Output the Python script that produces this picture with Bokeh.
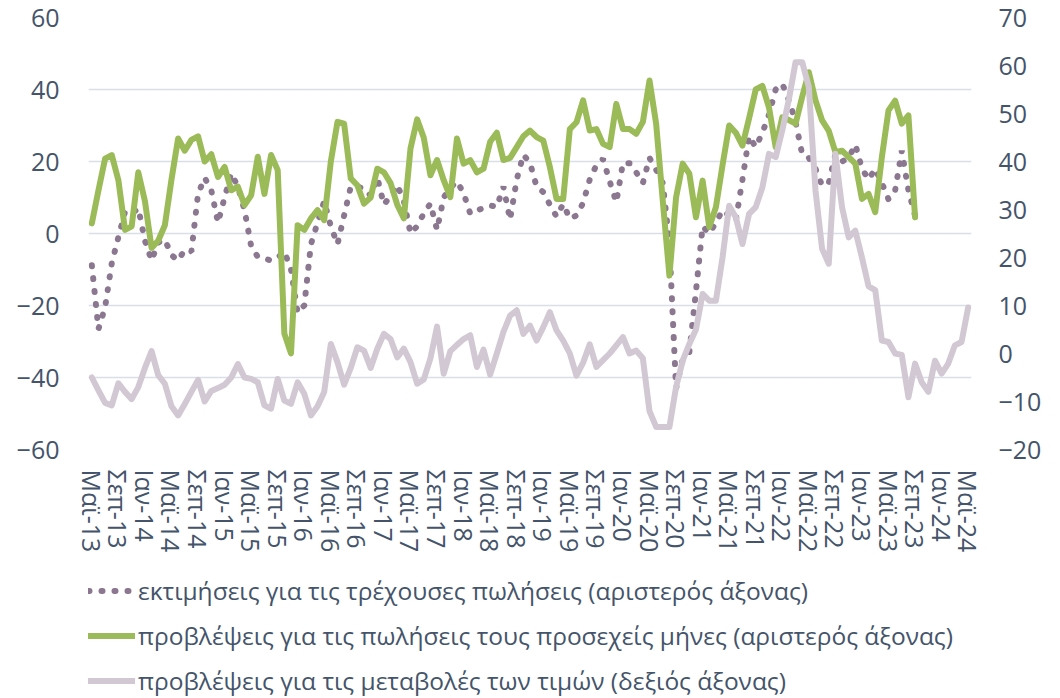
from bokeh.plotting import figure
from bokeh.models import Range1d, LinearAxis, FixedTicker, Legend, LegendItem
from bokeh.layouts import column
from bokeh.embed import file_html
from bokeh.resources import INLINE

# x-axis tick labels (every 4 months, starting May 2013)
tick_labels = ["Μαϊ-13", "Σεπ-13", "Ιαν-14", "Μαϊ-14", "Σεπ-14", "Ιαν-15", "Μαϊ-15",
               "Σεπ-15", "Ιαν-16", "Μαϊ-16", "Σεπ-16", "Ιαν-17", "Μαϊ-17", "Σεπ-17",
               "Ιαν-18", "Μαϊ-18", "Σεπ-18", "Ιαν-19", "Μαϊ-19", "Σεπ-19", "Ιαν-20",
               "Μαϊ-20", "Σεπ-20", "Ιαν-21", "Μαϊ-21", "Σεπ-21", "Ιαν-22", "Μαϊ-22",
               "Σεπ-22", "Ιαν-23", "Μαϊ-23", "Σεπ-23", "Ιαν-24", "Μαϊ-24"]

# estimates for current sales (left axis), monthly May-13 .. Sep-23
sales_now = [-8.8, -26.5, -20.5, -8.3, -1, 6, 5.5, 7, -2, -7.5,
             -2.5, -1.7, -6, -7.5, -4.5, -5, 11, 15.5, 12, 3,
             10, 16.7, 13, 6.5, -3.5, -6.5, -7, -7.5, -6.7, -5,
             -10, -22, -20, -3, 3, 9, 2, -3, 5, 13,
             13, 12.5, 10.5, 15.5, 8, 10.5, 13.5, 9, 0, 2,
             5.6, 8.3, 1, 10, 12.7, 14.5, 11.2, 5.5, 6.5, 7,
             7.8, 7.4, 13, 3.8, 15, 21.9, 19.6, 13, 11.5, 8,
             4.7, 8.2, 4.1, 5, 8.5, 15, 19, 20.7, 14.5, 8.7,
             19.6, 19.5, 17, 14, 21, 17.7, 14, -3, -43, -35,
             -33, -16, 2, 0, 3, 6.5, 5, 3.6, 15, 27,
             24, 28, 33, 40, 41.6, 37, 31, 22, 21, 18,
             13.3, 14, 22, 20, 21, 24.7, 18, 15, 18, 14,
             9.5, 12, 23, 12, 5]

# expectations for sales in coming months (left axis), May-13 .. Sep-23
sales_next = [2.8, 12, 20.8, 21.8, 14.8, 1, 2, 17, 9, -4,
              -2, 2.3, 15, 26.4, 23, 26, 27, 20, 22, 15.7,
              18.5, 12, 13, 7.9, 10.6, 21.3, 11, 21.8, 17.6, -27.8,
              -33.3, 2.3, 1, 4.2, 6.5, 3.7, 20, 31, 30.5, 15.3,
              13.4, 8.3, 10, 18, 17, 14, 8, 4.2, 23.6, 31.7,
              26.6, 16.2, 20.4, 14.8, 10.1, 26.4, 19.4, 20.4, 17, 18,
              25.5, 28, 20.4, 21, 24, 27, 28.6, 26.8, 25.8, 18.4,
              9.6, 9.6, 29, 30.9, 37, 28.6, 29, 24.9, 24, 36,
              29, 29, 27.7, 31, 42.5, 30.5, 9, -11.7, 10, 19.4,
              16.6, 4.5, 14.7, 1.8, 7.3, 19, 30, 28, 24.4, 32,
              40, 41, 35, 24, 32.3, 31.5, 30.5, 38, 44.8, 37,
              31.4, 28.5, 22.6, 23, 21.2, 19.4, 9.6, 11, 5.9, 21.2,
              34.2, 36.9, 30.5, 32.8, 4.5]

# expectations for price changes (right axis), May-13 .. May-24
price_exp = [-5, -7.7, -10.3, -10.8, -6.2, -8, -9.5, -7, -3, 0.5,
             -4.5, -6.3, -11, -12.9, -10.5, -8, -5.5, -10, -7.8, -7.2,
             -6.5, -5, -2.2, -5, -5.3, -6, -10.8, -11.5, -5.3, -9.8,
             -10.5, -6, -8.4, -12.9, -11, -8, 2, -1.8, -6.5, -3,
             1.3, 0.6, -3, 1, 4.1, 3, -0.8, 1, -1.8, -6.3,
             -5.4, -1, 5.6, -4.2, 0.5, 1.8, 3, 3.8, -2.8, 0.8,
             -4.4, 0, 4.5, 7.9, 9, 4.1, 5.8, 2.7, 5.5, 8.6,
             4.8, 2.7, 0, -4.6, -1.9, 1.9, -2.8, -1.4, 0, 1.7,
             3.4, 0, 0.6, -1, -12, -15.3, -15.3, -15.3, -7, -1.5,
             2, 5, 12.4, 11, 11, 20, 30.8, 28.4, 22.8, 29.1,
             30.5, 34.6, 41.6, 40.9, 46.5, 53, 60.7, 60.7, 55.5, 34,
             21.8, 18.7, 41.6, 30.5, 24.2, 25.6, 20, 14, 13.2, 2.7,
             2.4, 0, -0.3, -9.1, -2.1, -6, -8, -1.5, -4.2, -2.1,
             1.7, 2.4, 9.6]

left_ticks = [-60, -40, -20, 0, 20, 40, 60]
right_ticks = [-20, -10, 0, 10, 20, 30, 40, 50, 60, 70]

legend_labels = ["εκτιμήσεις για τις τρέχουσες πωλήσεις (αριστερός άξονας)",
                 "προβλέψεις για τις πωλήσεις τους προσεχείς μήνες (αριστερός άξονας)",
                 "προβλέψεις για τις μεταβολές των τιμών (δεξιός άξονας)"]

TXT = "#44546A"
FONT = "Open Sans"
C_NOW = "#8C7791"
C_NEXT = "#9BBB59"
C_PRICE = "#D2C8D3"

x_left = list(range(len(sales_now)))
x_right = list(range(len(price_exp)))
tick_pos = list(range(0, 4 * len(tick_labels), 4))

W = 1044
LEFT, RIGHT, TOP = 88, 72, 17
FRAME_H = 432
H_MAIN = 560
H_LEG = 138

p = figure(width=W, height=H_MAIN, output_backend="svg", toolbar_location=None,
           x_range=Range1d(-0.5, len(price_exp) - 0.5), y_range=Range1d(-60, 60),
           min_border_left=LEFT, min_border_right=RIGHT, min_border_top=TOP,
           min_border_bottom=H_MAIN - TOP - FRAME_H)
p.outline_line_color = None
p.extra_y_ranges = {"right": Range1d(-20, 70)}

# x axis
xa = p.xaxis[0]
xa.ticker = FixedTicker(ticks=tick_pos)
xa.major_label_overrides = {pos: lab for pos, lab in zip(tick_pos, tick_labels)}
xa.major_label_orientation = "vertical"
xa.major_label_standoff = 20

# left axis
ya = p.yaxis[0]
ya.ticker = FixedTicker(ticks=left_ticks)
ya.major_label_standoff = 29

# right axis
ra = LinearAxis(y_range_name="right", ticker=FixedTicker(ticks=right_ticks))
ra.major_label_standoff = 27
p.add_layout(ra, "right")

for ax in (xa, ya, ra):
    ax.axis_line_color = None
    ax.major_tick_line_color = None
    ax.minor_tick_line_color = None
    ax.major_tick_out = 0
    ax.major_tick_in = 0
    ax.minor_tick_out = 0
    ax.minor_tick_in = 0
    ax.major_label_text_font = FONT
    ax.major_label_text_font_size = "25px"
    ax.major_label_text_color = TXT

p.xgrid.visible = False
p.ygrid.ticker = FixedTicker(ticks=left_ticks)
p.ygrid.grid_line_color = "#D9DEE8"
p.ygrid.grid_line_width = 1.5

line_styles = [dict(line_color=C_NOW, line_width=6, line_dash="1 12", line_cap="round"),
               dict(line_color=C_NEXT, line_width=6, line_join="round", line_cap="round"),
               dict(line_color=C_PRICE, line_width=6, line_join="round", line_cap="round")]

p.line(x_left, sales_now, **line_styles[0])
p.line(x_left, sales_next, **line_styles[1])
p.line(x_right, price_exp, y_range_name="right", **line_styles[2])

# legend strip below the chart (its own lines lie outside its visible range,
# so only the legend samples show)
q = figure(width=W, height=H_LEG, output_backend="svg", toolbar_location=None,
           x_axis_location=None, y_axis_location=None,
           x_range=Range1d(-0.5, len(price_exp) - 0.5), y_range=Range1d(500, 600),
           min_border_left=LEFT, min_border_right=RIGHT, min_border_top=0,
           min_border_bottom=0)
q.outline_line_color = None
q.xgrid.visible = False
q.ygrid.visible = False
l1 = q.line(x_left, sales_now, **line_styles[0])
l2 = q.line(x_left, sales_next, **line_styles[1])
l3 = q.line(x_right, price_exp, **line_styles[2])

ROW = 35
legend = Legend(items=[LegendItem(label=legend_labels[0], renderers=[l1]),
                       LegendItem(label=legend_labels[1], renderers=[l2]),
                       LegendItem(label=legend_labels[2], renderers=[l3])],
                location=(0, 0), orientation="vertical",
                glyph_width=47, glyph_height=ROW, label_height=ROW, spacing=10,
                padding=0, margin=0, label_standoff=3,
                border_line_color=None, background_fill_alpha=0,
                label_text_font=FONT, label_text_font_size="24.5px",
                label_text_color=TXT)
q.add_layout(legend)

open("out.html", "w").write(file_html(column(p, q, spacing=0), INLINE))
